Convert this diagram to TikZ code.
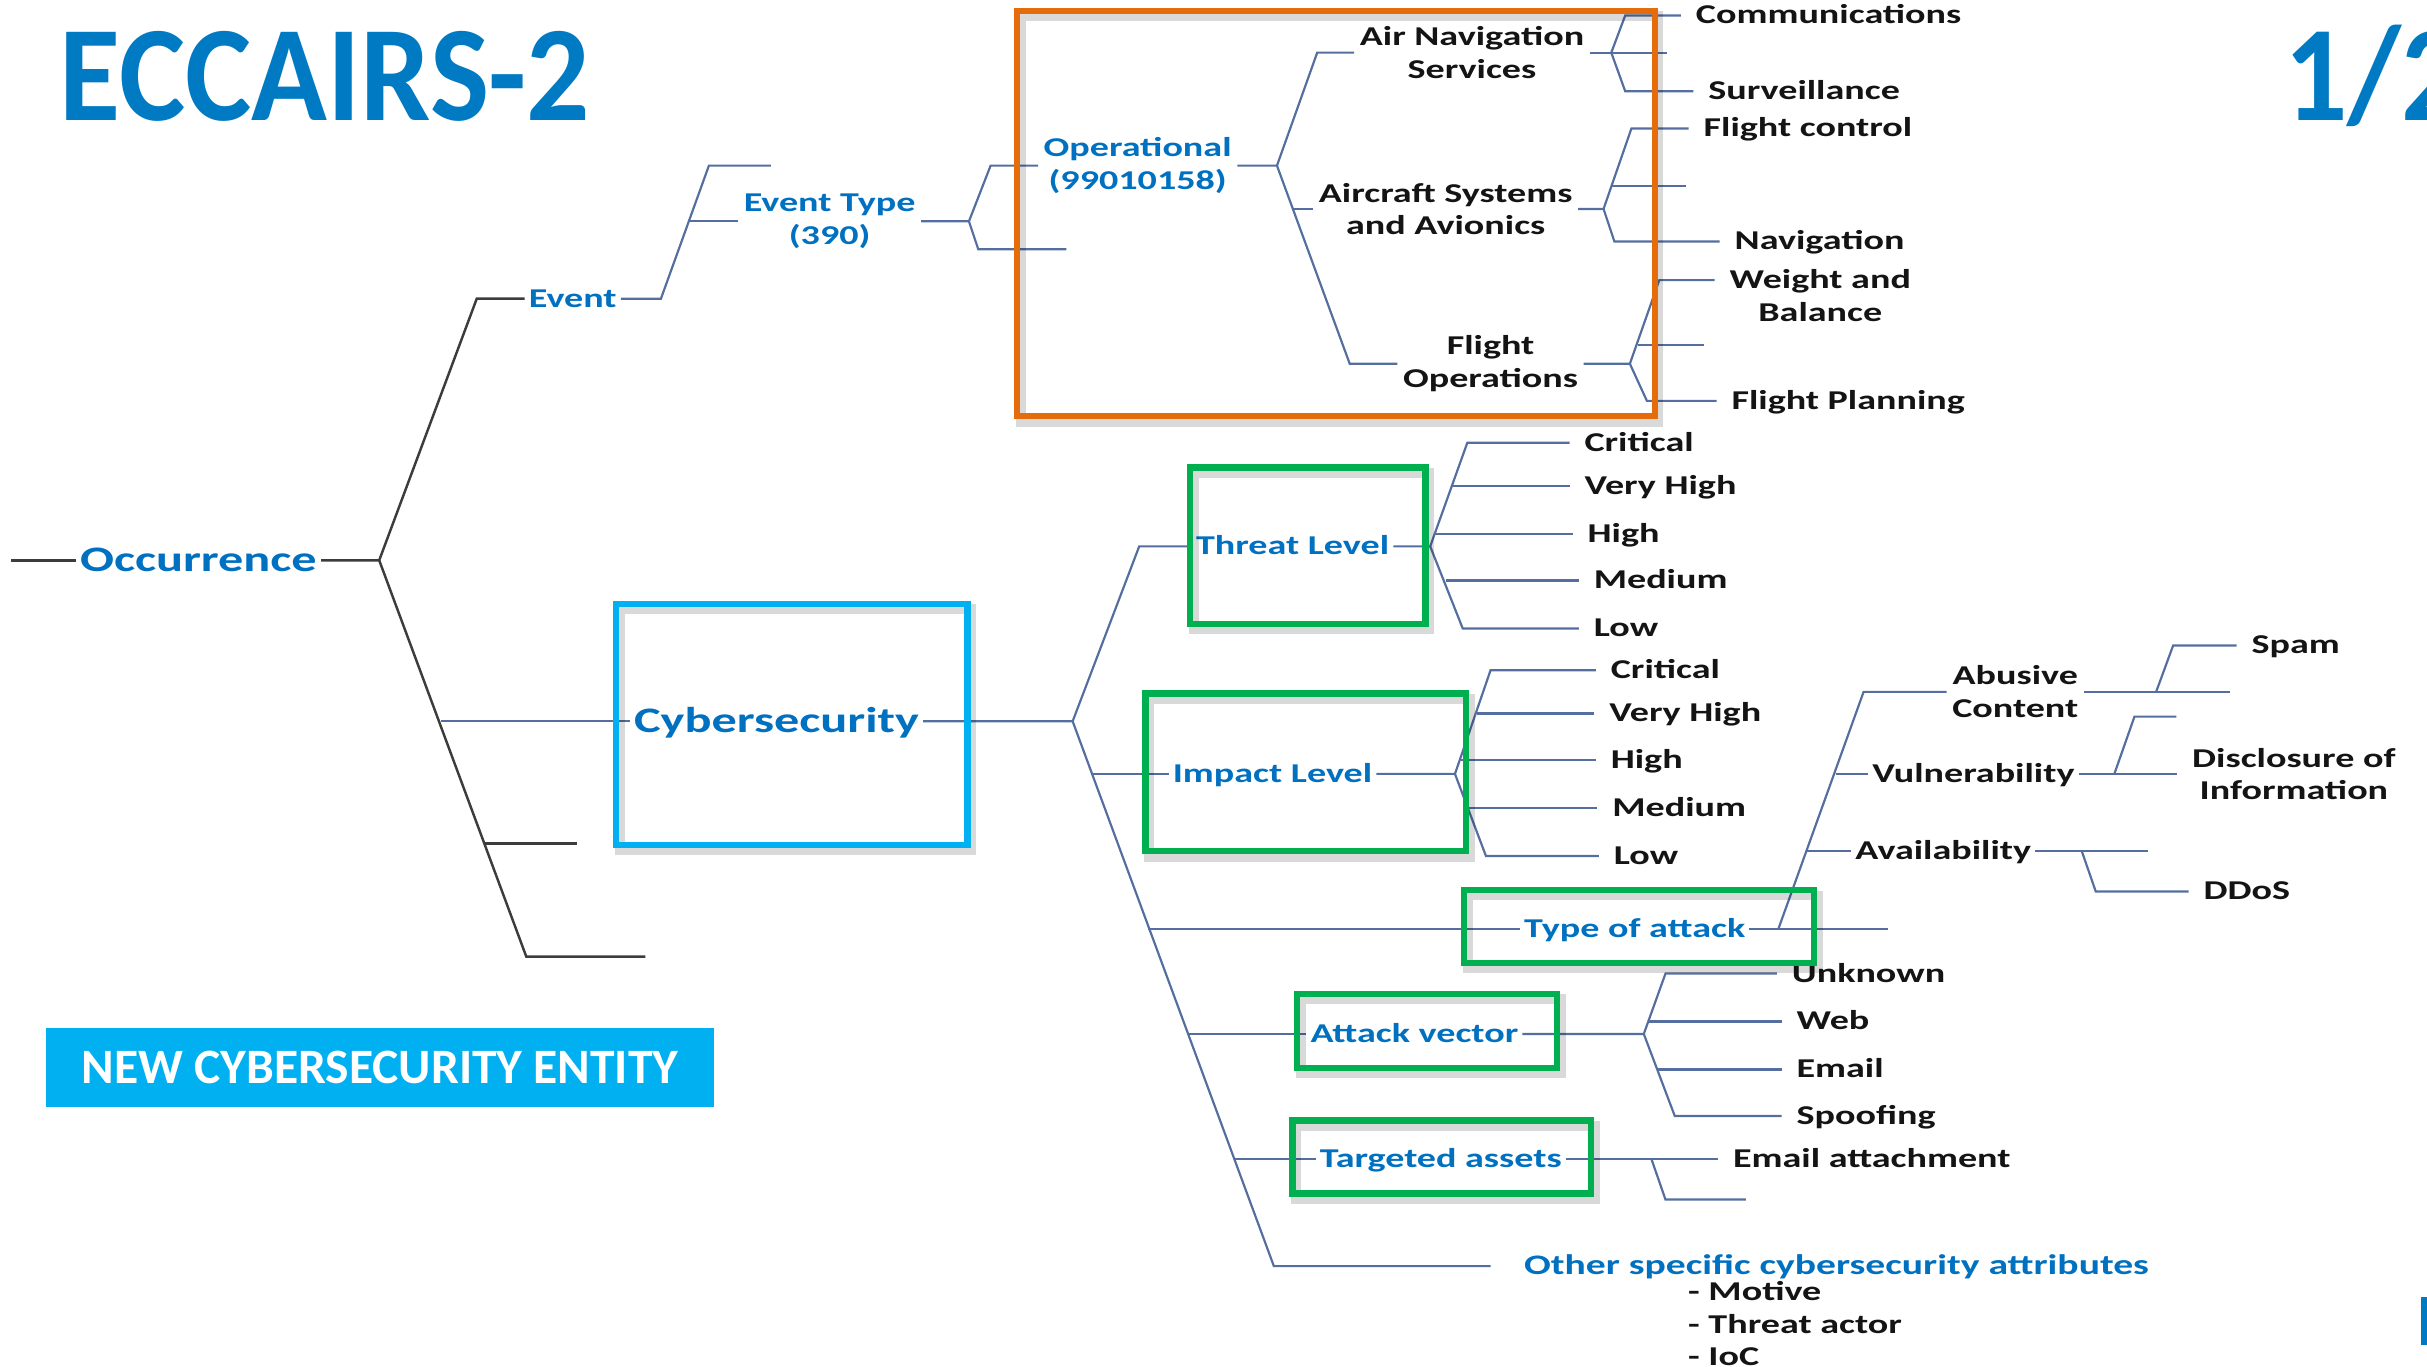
\documentclass[tikz,border=0pt]{standalone}
\usepackage{fontspec}
\setmainfont{Carlito}
\newfontfamily\treefont[FakeStretch=1.4]{Carlito}
\newfontfamily\headfont[FakeStretch=0.92]{Carlito}

\definecolor{titleblue}{RGB}{0,122,194}
\definecolor{catblue}{RGB}{0,112,192}
\definecolor{inkblack}{RGB}{20,20,20}
\definecolor{wireblue}{RGB}{84,110,160}
\definecolor{trunkgrey}{RGB}{60,60,60}
\definecolor{boxorange}{RGB}{228,108,10}
\definecolor{boxcyan}{RGB}{0,176,240}
\definecolor{boxgreen}{RGB}{0,176,80}

\tikzset{
  wire/.style={draw=wireblue, line width=0.4pt},
  trunk/.style={draw=trunkgrey, line width=0.45pt},
  mid/.style={anchor=west, inner xsep=0.2mm, inner ysep=0.3mm, text=inkblack,
    font=\treefont\bfseries\fontsize{5}{6}\selectfont, text height=3.1pt, text depth=0pt},
  leaf/.style={mid, inner xsep=0.9mm},
  cat/.style={mid, text=catblue},
  big/.style={cat, font=\treefont\bfseries\fontsize{6.6}{8}\selectfont, text height=4.1pt},
  midpair/.style={align=center, inner sep=0.3mm, text=inkblack,
    font=\treefont\bfseries\fontsize{5}{6}\selectfont},
  endpair/.style={midpair, inner xsep=0.9mm},
  catpair/.style={midpair, text=catblue},
  frame/.style={line width=1.15pt},
  frameshadow/.style={draw=black, draw opacity=0.15, line width=1.8pt,
    transform canvas={shift={(0.25mm,-0.35mm)}}},
  heading/.style={anchor=west, inner sep=0pt, text=titleblue,
    font=\headfont\bfseries\fontsize{25}{30}\selectfont, text height=16pt, text depth=0pt},
  banner/.style={fill=boxcyan, text=white, inner sep=0pt, minimum width=43.2mm,
    minimum height=5.1mm, font=\setmainfont{Carlito}\bfseries\fontsize{9.1}{10}\selectfont}
}

\begin{document}
\begin{tikzpicture}[x=0.1mm, y=-0.1mm]
    \useasboundingbox (0,0) rectangle (1568,883);
    \clip (0,0) rectangle (1568,883);

    % Heading
    \node[heading] (title) at (38,50) {ECCAIRS-2};
    \node[heading] (page) at (1475,50) {1/2};
    \fill[titleblue] (1564,838) rectangle (1568,869);
    \node[banner] (entity) at (245.5,689.5) {NEW CYBERSECURITY ENTITY};

    % Occurrence trunk
    \node[big] (occ) at (49,362) {Occurrence};
    \node[cat] (event) at (339,193) {Event};
    \node[big] (cyber) at (407,466) {Cybersecurity};
    \coordinate (o0) at (245,362);
    \draw[trunk] (7,362) -- (occ.west);
    \draw[trunk] (occ.east) -- (o0) -- (308,193) -- (event.west);
    \draw[trunk] (o0) -- (340,618) -- (417,618);
    \draw[trunk] (313,545) -- (373,545);
    \draw[wire] (285,466) -- (cyber.west);

    % Event branch
    \node[catpair] (evtype) at (536,143) {Event Type\\(390)};
    \node[catpair] (oper) at (735,107) {Operational\\(99010158)};
    \coordinate (e0) at (427,193);
    \coordinate (t0) at (626,143);
    \draw[wire] (event.east) -- (e0) -- (458,107) -- (498,107);
    \draw[wire] (445,143) -- (evtype.west);
    \draw[wire] (evtype.east) -- (t0) -- (640,107) -- (oper.west);
    \draw[wire] (t0) -- (632,161) -- (689,161);

    % Operational categories
    \node[midpair] (ans) at (951,34) {Air Navigation\\Services};
    \node[midpair] (asa) at (934,135) {Aircraft Systems\\and Avionics};
    \node[midpair] (fo) at (963,235) {Flight\\Operations};
    \coordinate (p0) at (825,107);
    \draw[wire] (oper.east) -- (p0) -- (851,34) -- (ans.west);
    \draw[wire] (835,135) -- (asa.west);
    \draw[wire] (p0) -- (872,235) -- (fo.west);

    \node[leaf] (comm) at (1086,10) {Communications};
    \node[leaf] (surv) at (1094,59) {Surveillance};
    \coordinate (a0) at (1041,34);
    \draw[wire] (ans.east) -- (a0) -- (1077,34);
    \draw[wire] (a0) -- (1050,10) -- (comm.west);
    \draw[wire] (a0) -- (1050,59) -- (surv.west);

    \node[leaf] (fctl) at (1091,83) {Flight control};
    \node[leaf] (navi) at (1111,156) {Navigation};
    \coordinate (a1) at (1036,135);
    \draw[wire] (asa.east) -- (a1) -- (1054,83) -- (fctl.west);
    \draw[wire] (1041,120) -- (1089,120);
    \draw[wire] (a1) -- (1043,156) -- (navi.west);

    \node[endpair] (wb) at (1176,191) {Weight and\\Balance};
    \node[leaf] (fplan) at (1109,259) {Flight Planning};
    \coordinate (a2) at (1053,235);
    \draw[wire] (fo.east) -- (a2) -- (1072,181) -- (1072,181 -| wb.west);
    \draw[wire] (1058,223) -- (1101,223);
    \draw[wire] (a2) -- (1064,259) -- (fplan.west);

    % Cybersecurity branch
    \coordinate (c0) at (693,466);
    \node[cat] (threat) at (770,353) {Threat Level};
    \node[cat] (impact) at (755,500) {Impact Level};
    \node[cat] (attack) at (982,600) {Type of attack};
    \node[cat] (vector) at (844,668) {Attack vector};
    \node[cat] (assets) at (850,749) {Targeted assets};
    \node[cat, font=\treefont\bfseries\fontsize{5.2}{6}\selectfont] (other) at (982,818) {Other specific cybersecurity attributes};
    \draw[wire] (cyber.east) -- (c0) -- (736,353) -- (threat.west);
    \draw[wire] (c0) -- (823,818) -- ([xshift=-1.9mm]other.west);
    \draw[wire] (706,500) -- (impact.west);
    \draw[wire] (742,600) -- (attack.west);
    \draw[wire] (768,668) -- (vector.west);
    \draw[wire] (798,749) -- (assets.west);

    % Threat level values
    \foreach \lvl/\x/\y [count=\i] in {Critical/1014/286, Very High/1014/314, High/1016/345, Medium/1020/375, Low/1020/406}
        \node[leaf] (thr\i) at (\x,\y) {\lvl};
    \coordinate (h0) at (924,353);
    \draw[wire] (threat.east) -- (h0) -- (948,286) -- (thr1.west);
    \draw[wire] (938,314) -- (thr2.west);
    \draw[wire] (927,345) -- (thr3.west);
    \draw[wire] (934,375) -- (thr4.west);
    \draw[wire] (h0) -- (945,406) -- (thr5.west);

    % Impact level values
    \foreach \lvl/\x/\y [count=\i] in {Critical/1031/433, Very High/1030/461, High/1031/491, Medium/1032/522, Low/1033/553}
        \node[leaf] (imp\i) at (\x,\y) {\lvl};
    \coordinate (m0) at (940,500);
    \draw[wire] (impact.east) -- (m0) -- (963,433) -- (imp1.west);
    \draw[wire] (954,461) -- (imp2.west);
    \draw[wire] (944,491) -- (imp3.west);
    \draw[wire] (949,522) -- (imp4.west);
    \draw[wire] (m0) -- (960,553) -- (imp5.west);

    % Type of attack
    \node[midpair] (abusive) at (1302,447) {Abusive\\Content};
    \node[mid] (vuln) at (1207,500) {Vulnerability};
    \node[mid] (avail) at (1196,550) {Availability};
    \node[leaf] (spam) at (1445,417) {Spam};
    \node[endpair] (disclose) at (1482,500) {Disclosure of\\Information};
    \node[leaf] (ddos) at (1414,576) {DDoS};
    \coordinate (k0) at (1149,600);
    \draw[wire] (attack.east) -- (k0) -- (1220,600);
    \draw[wire] (k0) -- (1204,447) -- (abusive.west);
    \draw[wire] (1186,500) -- (vuln.west);
    \draw[wire] (1167,550) -- (avail.west);
    \coordinate (ab0) at (1393,447);
    \draw[wire] (abusive.east) -- (ab0) -- (1441,447);
    \draw[wire] (ab0) -- (1404,417) -- (spam.west);
    \coordinate (v0) at (1366,500);
    \draw[wire] (vuln.east) -- (v0) -- (disclose.west);
    \draw[wire] (v0) -- (1379,463) -- (1406,463);
    \coordinate (av0) at (1345,550);
    \draw[wire] (avail.east) -- (av0) -- (1388,550);
    \draw[wire] (av0) -- (1354,576) -- (ddos.west);

    % Attack vector
    \foreach \vec/\x/\y [count=\i] in {Unknown/1148/629, Web/1151/660, Email/1151/691, Spoofing/1151/721}
        \node[leaf] (vec\i) at (\x,\y) {\vec};
    \coordinate (w0) at (1062,668);
    \draw[wire] (vector.east) -- (w0) -- (1076,629) -- (vec1.west);
    \draw[wire] (1065,660) -- (vec2.west);
    \draw[wire] (1071,691) -- (vec3.west);
    \draw[wire] (w0) -- (1082,721) -- (vec4.west);

    % Targeted assets
    \node[leaf] (attach) at (1110,749) {Email attachment};
    \coordinate (g0) at (1067,749);
    \draw[wire] (assets.east) -- (g0) -- (attach.west);
    \draw[wire] (g0) -- (1076,775) -- (1128,775);

    % Other attributes
    \foreach \item/\y in {Motive/835, Threat actor/856, IoC/877}
        \node[mid] at (1088,\y) {- \item};

    % Highlight frames
    \foreach \xa/\ya/\xb/\yb/\col in {657/7/1069/269/boxorange, 398/390/625/546/boxcyan,
        769/302/921/403/boxgreen, 740/448/947/550/boxgreen, 946/575/1172/622/boxgreen,
        838/642/1006/690/boxgreen, 835/724/1028/771/boxgreen}
    {
        \draw[frameshadow] (\xa,\ya) rectangle (\xb,\yb);
        \draw[frame, draw=\col] (\xa,\ya) rectangle (\xb,\yb);
    }
\end{tikzpicture}
\end{document}
